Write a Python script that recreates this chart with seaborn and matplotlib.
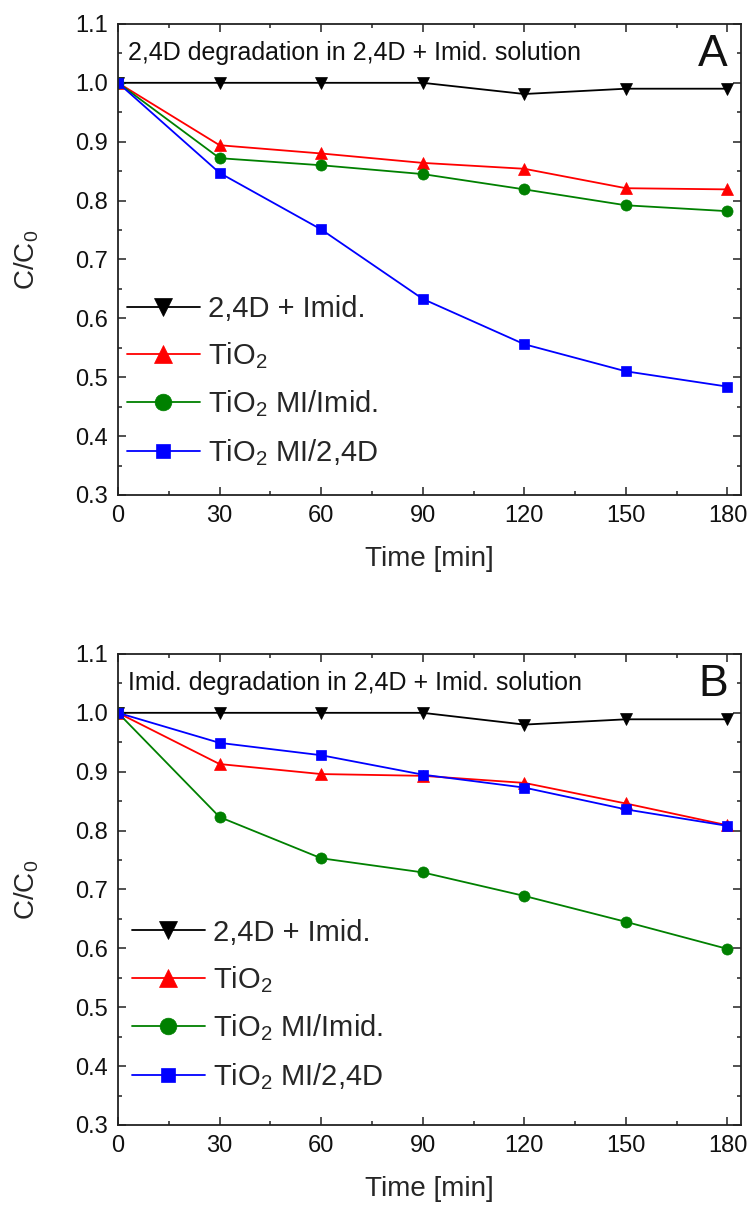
import numpy as np
import pandas as pd
import matplotlib
matplotlib.use("Agg")
import matplotlib.pyplot as plt
import seaborn as sns
from matplotlib.ticker import MultipleLocator, FormatStrFormatter

# ---------------- data ----------------
time_min = [0, 30, 60, 90, 120, 150, 180]

series_labels = ["2,4D + Imid.", r"TiO$_2$", r"TiO$_2$ MI/Imid.", r"TiO$_2$ MI/2,4D"]
series_colors = ["#000000", "#ff0000", "#008000", "#0000ff"]
series_markers = ["v", "^", "o", "s"]

# Panel A: 2,4D degradation in 2,4D + Imid. solution
a_photolysis = [1.000, 1.000, 1.000, 1.000, 0.981, 0.990, 0.990]
a_tio2 = [1.000, 0.894, 0.880, 0.864, 0.854, 0.821, 0.819]
a_mi_imid = [1.000, 0.872, 0.860, 0.845, 0.819, 0.792, 0.782]
a_mi_24d = [1.000, 0.847, 0.751, 0.633, 0.556, 0.510, 0.484]

# Panel B: Imid. degradation in 2,4D + Imid. solution
b_photolysis = [1.000, 1.000, 1.000, 1.000, 0.980, 0.989, 0.989]
b_tio2 = [1.000, 0.913, 0.896, 0.893, 0.881, 0.846, 0.809]
b_mi_imid = [1.000, 0.823, 0.753, 0.729, 0.689, 0.645, 0.599]
b_mi_24d = [1.000, 0.949, 0.928, 0.895, 0.873, 0.836, 0.808]

panel_titles = ["2,4D degradation in 2,4D + Imid. solution",
                "Imid. degradation in 2,4D + Imid. solution"]
panel_letters = ["A", "B"]
x_label = "Time [min]"
y_label = r"C/C$_0$"

# ---------------- style ----------------
sns.set_style("ticks")
plt.rcParams["font.family"] = ["Liberation Sans", "DejaVu Sans"]
plt.rcParams["mathtext.fontset"] = "custom"
plt.rcParams["mathtext.rm"] = "Liberation Sans"
plt.rcParams["mathtext.it"] = "Liberation Sans"
plt.rcParams["mathtext.bf"] = "Liberation Sans:bold"

fig = plt.figure(figsize=(7.53, 12.09), dpi=100)
ax_a = fig.add_axes([0.1567, 0.5906, 0.8274, 0.3896])
ax_b = fig.add_axes([0.1567, 0.0695, 0.8274, 0.3896])

panels = [
    (ax_a, [a_photolysis, a_tio2, a_mi_imid, a_mi_24d], (0.014, 0.425)),
    (ax_b, [b_photolysis, b_tio2, b_mi_imid, b_mi_24d], (0.022, 0.438)),
]

marker_sizes = [8.5, 8.5, 8.0, 7.0]

for i, (ax, values, leg_anchor) in enumerate(panels):
    for lab, col, mk, ms, vals in zip(series_labels, series_colors, series_markers, marker_sizes, values):
        df = pd.DataFrame({"t": time_min, "c": vals})
        sns.lineplot(data=df, x="t", y="c", ax=ax, color=col, marker=mk,
                     markersize=ms, markeredgecolor=col, markeredgewidth=0.5,
                     linewidth=1.3, label=lab)
    ax.set_xlim(0, 184)
    ax.set_ylim(0.3, 1.1)
    ax.xaxis.set_major_locator(MultipleLocator(30))
    ax.xaxis.set_minor_locator(MultipleLocator(15))
    ax.yaxis.set_major_locator(MultipleLocator(0.1))
    ax.yaxis.set_minor_locator(MultipleLocator(0.05))
    ax.yaxis.set_major_formatter(FormatStrFormatter("%.1f"))
    ax.tick_params(which="both", direction="in", top=True, right=True,
                   width=1.1, labelsize=17, colors="#222222", labelcolor="#111111")
    ax.tick_params(which="major", length=5.5, pad=7)
    ax.tick_params(which="minor", length=3)
    for sp in ax.spines.values():
        sp.set_linewidth(1.3)
        sp.set_color("#222222")
        sp.set_visible(True)
    ax.set_xlabel(x_label, fontsize=20, labelpad=14)
    ax.set_ylabel(y_label, fontsize=20, labelpad=25)
    ax.text(0.016, 0.938, panel_titles[i], transform=ax.transAxes,
            ha="left", va="center", fontsize=18, color="#111111")
    ax.text(0.979, 0.936, panel_letters[i], transform=ax.transAxes,
            ha="right", va="center", fontsize=32, color="#111111")
    ax.legend(loc="upper left", bbox_to_anchor=leg_anchor, frameon=False,
              borderpad=0, borderaxespad=0, handlelength=2.5, handletextpad=0.3,
              labelspacing=0.6, fontsize=21, markerscale=1.5)

fig.savefig("out.png", dpi=100)
